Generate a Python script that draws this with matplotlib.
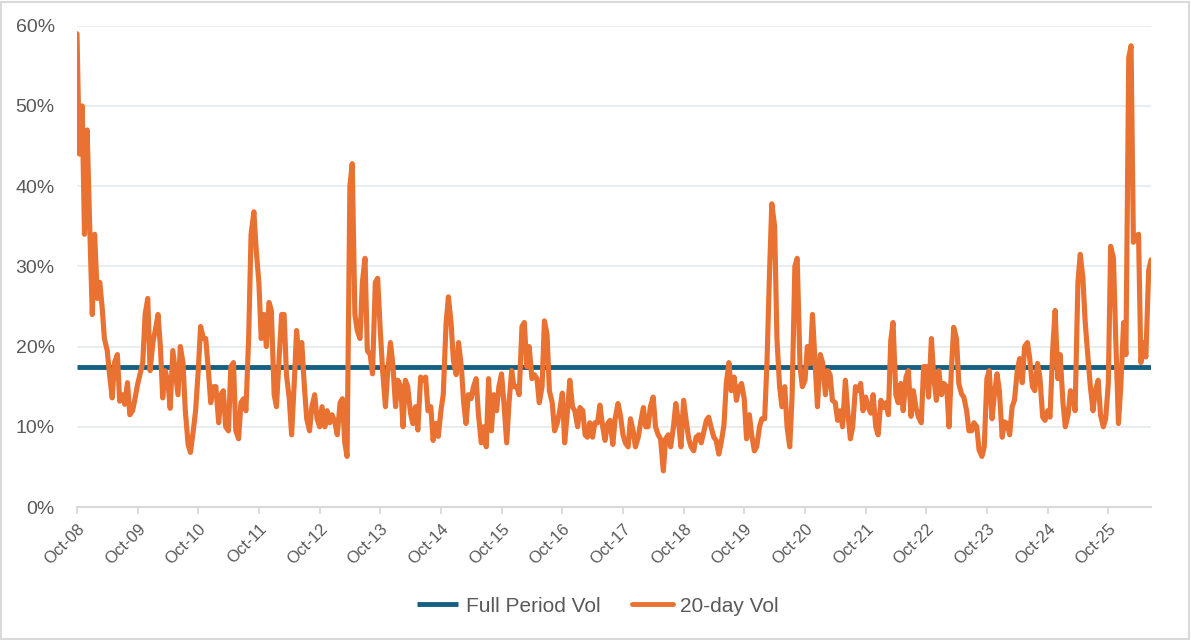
import matplotlib
matplotlib.use("Agg")
import matplotlib.pyplot as plt
import matplotlib.dates as mdates
from matplotlib.patches import Rectangle
import pandas as pd

plt.rcParams['font.family'] = ['Liberation Sans', 'DejaVu Sans']

# ---- data (semi-monthly readings, Oct-08 onwards) ----
start_date = "2008-10-01"
vol_y08 = [59, 44, 50, 34, 47, 36, 24, 34, 26, 28, 25, 21, 19.5, 16.5, 13.6, 18, 19, 13.2, 14, 12.8, 15.5, 11.5, 12, 13.5]
vol_y09 = [15.3, 16.5, 18, 24, 26, 17, 20.5, 22, 24, 20, 13.6, 17, 15.7, 12.3, 19.5, 17, 14, 20, 18, 12, 7.8, 6.8, 9.5, 12]
vol_y10 = [17, 22.5, 21, 21, 17, 13, 15, 15, 10.5, 14, 14.5, 10, 9.5, 17.5, 18, 9.5, 8.5, 13, 13.5, 12, 21.5, 34, 36.8, 32]
vol_y11 = [28, 21, 24, 20, 25.5, 24.5, 14, 12.5, 19, 24, 24, 16.5, 13.5, 9, 15.5, 22, 18, 20.5, 15, 11, 9.5, 12.5, 14, 11]
vol_y12 = [10, 12.5, 10, 12, 10.5, 11.5, 10.5, 9, 13, 13.5, 8, 6.3, 40, 42.8, 24, 22, 21, 28, 31, 19.5, 19, 16.6, 28, 28.5]
vol_y13 = [22, 17, 12.5, 17, 20.5, 17.9, 12.5, 15.8, 15, 10, 15.8, 15, 11.7, 10.4, 12.5, 9.6, 16.2, 15.8, 16.2, 12, 12.5, 8.3, 10.4, 8.8]
vol_y14 = [12, 14, 22.9, 26.2, 23, 18.3, 16.5, 20.5, 17.5, 13, 10.4, 14, 13.5, 15, 16, 11.5, 8, 10, 7.5, 16, 9.5, 14, 12, 15]
vol_y15 = [16.6, 13, 8, 13, 17, 15, 15, 14, 22.5, 23, 17.5, 20, 16, 16.5, 16, 13, 15, 23.2, 21.5, 14.5, 13, 9.5, 10.5, 12]
vol_y16 = [14.2, 8, 12, 15.8, 12.5, 12, 10, 12.4, 12, 9, 8.7, 10.5, 8.7, 10.5, 10.5, 12.7, 10, 8.3, 10.4, 10.8, 7.8, 11, 12.9, 11.5]
vol_y17 = [9, 8, 7.5, 11, 9.5, 7.5, 8.7, 10.5, 12.4, 10, 10, 12.5, 13.7, 10, 9, 8.5, 4.5, 8.5, 9, 7.5, 10, 12.9, 10.5, 7.5]
vol_y18 = [13.3, 11, 8.5, 7.5, 7, 8.7, 9, 8, 9.5, 10.8, 11.2, 10, 8.7, 8.3, 6.6, 8, 10.2, 15.4, 18, 14.5, 16.2, 13.3, 15, 15.4]
vol_y19 = [13.5, 8.5, 11.5, 9, 7, 7.5, 10, 11, 11, 18, 29, 37.8, 35, 21, 15, 12.5, 15, 10, 7.5, 13.7, 30, 31, 17.5, 15]
vol_y20 = [15.8, 20, 17.9, 24, 18, 12.5, 19, 18, 14, 17, 16.5, 13.3, 13, 10.8, 12, 10, 15.8, 12, 8.5, 10, 15, 14.5, 15.4, 12]
vol_y21 = [13.7, 12.5, 11.7, 14, 10, 9, 13.3, 12.4, 13, 11.5, 20.7, 23, 14, 13, 15.4, 12, 16.2, 17, 11.3, 14.5, 12.3, 11.2, 10.5, 17.5]
vol_y22 = [17.5, 13.7, 21, 16.2, 13.3, 17, 14, 15.4, 15, 10, 17, 22.4, 21, 15.4, 14.1, 13.7, 12, 9.5, 9.5, 10.5, 10, 7.1, 6.3, 7.5]
vol_y23 = [16, 17, 11, 14, 16.6, 14.5, 8.7, 10.6, 10.4, 9, 12.5, 13.3, 17, 18.5, 15.5, 20, 20.5, 18.5, 15, 14.5, 17.9, 16.2, 11.2, 10.8]
vol_y24 = [12, 11.2, 20, 24.5, 16, 19, 13, 10, 11.5, 14.5, 14, 12, 28, 31.5, 28.5, 23, 18.5, 15, 12, 14.5, 15.8, 11.5, 10, 11]
vol_y25 = [15.4, 32.5, 31, 20.8, 10.4, 15, 23, 19, 56, 57.5, 33, 33.7, 34, 18, 20.5, 18.7, 29.5, 30.8]

full_period_vol = 17.5
series_names = ["Full Period Vol", "20-day Vol"]
tick_years = list(range(2008, 2026))
y_ticks = [0, 10, 20, 30, 40, 50, 60]

vol_20d = (vol_y08 + vol_y09 + vol_y10 + vol_y11 + vol_y12 + vol_y13 + vol_y14 + vol_y15 +
           vol_y16 + vol_y17 + vol_y18 + vol_y19 + vol_y20 + vol_y21 + vol_y22 + vol_y23 +
           vol_y24 + vol_y25)
dates = pd.date_range(start_date, periods=len(vol_20d), freq="SMS")
full_line = [full_period_vol] * len(dates)

# ---- figure ----
W, H = 1191, 640
fig = plt.figure(figsize=(W / 100, H / 100), dpi=100)
fig.patch.set_facecolor("white")
fig.patches.append(Rectangle((0.001, 0.002), 0.997, 0.995, transform=fig.transFigure,
                             fill=False, edgecolor="#D9D9D9", linewidth=1.5))

ax = fig.add_axes([77 / W, 1 - 507 / H, (1151 - 77) / W, (507 - 25.7) / H])

teal = "#156082"
orange = "#E97132"
ax.plot(dates, full_line, color=teal, lw=3.5, label=series_names[0], zorder=3,
        solid_capstyle="butt")
ax.plot(dates, vol_20d, color=orange, lw=3.7, label=series_names[1], zorder=4,
        solid_joinstyle="round", solid_capstyle="round")

ax.set_ylim(0, 60)
ax.set_yticks(y_ticks)
ax.set_yticklabels([f"{v}%" for v in y_ticks])
ax.set_xlim(dates[0], dates[-1])
ax.set_xticks([pd.Timestamp(f"{y}-10-01") for y in tick_years])
ax.xaxis.set_major_formatter(mdates.DateFormatter("%b-%y"))

ax.grid(axis="y", color="#E8ECEF", lw=1.3, zorder=0)
ax.set_axisbelow(True)
for s in ["top", "right", "left"]:
    ax.spines[s].set_visible(False)
ax.spines["bottom"].set_color("#D9D9D9")
ax.spines["bottom"].set_linewidth(1.5)

ax.tick_params(axis="y", length=0, pad=16, labelsize=14, labelcolor="#595959")
ax.tick_params(axis="x", length=5, width=1.3, color="#D9D9D9", direction="out",
               pad=5, labelsize=12, labelcolor="#595959")
for lab in ax.get_xticklabels():
    lab.set_rotation(45)
    lab.set_ha("right")
    lab.set_va("top")
    lab.set_rotation_mode("anchor")

leg = fig.legend(loc="center", bbox_to_anchor=(0.502, 1 - 606 / H), ncol=2, frameon=False,
                 fontsize=15, handlelength=2.0, handletextpad=0.35, columnspacing=1.5)
for t in leg.get_texts():
    t.set_color("#595959")
for l in leg.get_lines():
    l.set_linewidth(3.5)

fig.savefig("out.png", dpi=100)
